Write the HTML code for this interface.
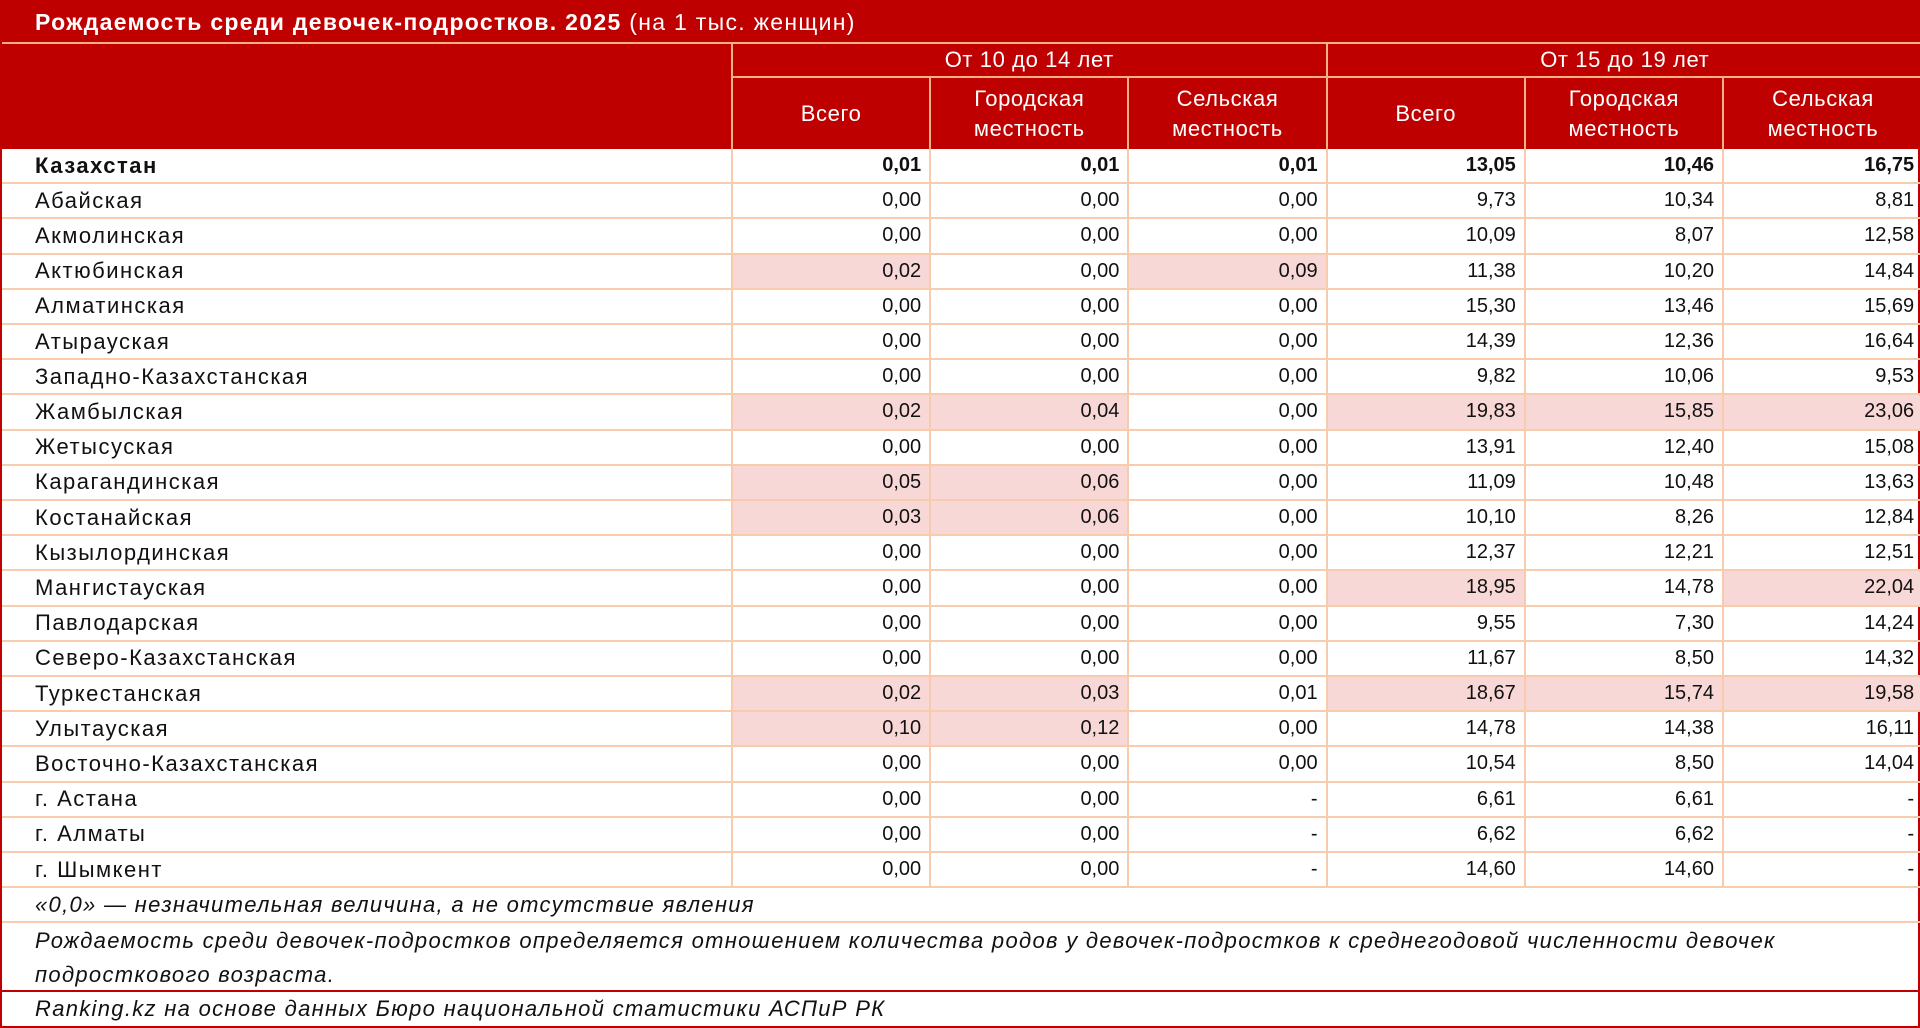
<!DOCTYPE html>
<html><head><meta charset="utf-8"><style>
*{margin:0;padding:0;box-sizing:border-box}
html,body{width:1920px;height:1028px;background:#fff;overflow:hidden}
body{font-family:"Liberation Sans","DejaVu Sans",sans-serif;color:#111}
#t{position:absolute;left:0;top:0;width:1920px;height:1028px;border:2px solid #c00000}
.title{position:absolute;left:0;top:0;width:1920px;height:42px;background:#bf0000;color:#fff;font-size:23px;letter-spacing:1.3px;padding:7px 0 0 33px;border-bottom:2px solid #f4b183}
.title b{font-weight:bold}
.hdr{position:absolute;background:#bf0000;color:#fff;font-size:22px;letter-spacing:0.6px;text-align:center;display:flex;align-items:center;justify-content:center;line-height:30px;border-right:2px solid #f4b183;border-bottom:2px solid #f4b183}
.row{position:absolute;left:0;width:1920px;height:33.6px;border-bottom:2px solid #f8cbad;font-size:20px}
.c{position:absolute;top:0;height:100%;display:flex;align-items:center;border-right:2px solid #f8cbad}
.l{left:0;width:731px;padding-left:33px;font-size:22px;letter-spacing:1.5px}
.n{justify-content:flex-end;padding-right:8px;width:198.2px}
.p{background:#f8d7d7}
.bold{font-weight:bold}
.fn{position:absolute;left:0;width:1920px;font-size:22px;letter-spacing:1.3px;font-style:italic;padding-left:33px;white-space:nowrap}
</style></head><body>
<div id="t">
<div class="title"><b>Рождаемость среди девочек-подростков. 2025</b> (на 1 тыс. женщин)</div>
<div class="hdr" style="left:0;top:42px;width:731px;height:105px;border-bottom:none"></div>
<div class="hdr" style="left:731px;top:42px;width:594.5px;height:34px">От 10 до 14 лет</div>
<div class="hdr" style="left:1325.5px;top:42px;width:594.5px;height:34px;border-right:none">От 15 до 19 лет</div>
<div class="hdr" style="left:731px;top:76px;width:198.2px;height:71px;border-bottom:none">Всего</div>
<div class="hdr" style="left:929.2px;top:76px;width:198.2px;height:71px;border-bottom:none">Городская<br>местность</div>
<div class="hdr" style="left:1127.4px;top:76px;width:198.2px;height:71px;border-bottom:none">Сельская<br>местность</div>
<div class="hdr" style="left:1325.6px;top:76px;width:198.2px;height:71px;border-bottom:none">Всего</div>
<div class="hdr" style="left:1523.8px;top:76px;width:198.2px;height:71px;border-bottom:none">Городская<br>местность</div>
<div class="hdr" style="left:1722px;top:76px;width:198px;height:71px;border-bottom:none;border-right:none">Сельская<br>местность</div>
<div id="rows"></div>
<div class="fn" style="top:886px;height:35px;line-height:33px;border-bottom:2px solid #f8cbad">«0,0» — незначительная величина, а не отсутствие явления</div>
<div class="fn" style="top:921px;height:69px;line-height:34px;padding-top:1px;border-bottom:2px solid #c00000">Рождаемость среди девочек-подростков определяется отношением количества родов у девочек-подростков к среднегодовой численности девочек<br>подросткового возраста.</div>
<div class="fn" style="top:990px;height:36px;line-height:34px">Ranking.kz на основе данных Бюро национальной статистики АСПиР РК</div>
</div>
<script>
var D=[
["Казахстан","0,01","0,01","0,01","13,05","10,46","16,75",""],
["Абайская","0,00","0,00","0,00","9,73","10,34","8,81",""],
["Акмолинская","0,00","0,00","0,00","10,09","8,07","12,58",""],
["Актюбинская","0,02","0,00","0,09","11,38","10,20","14,84","101000"],
["Алматинская","0,00","0,00","0,00","15,30","13,46","15,69",""],
["Атырауская","0,00","0,00","0,00","14,39","12,36","16,64",""],
["Западно-Казахстанская","0,00","0,00","0,00","9,82","10,06","9,53",""],
["Жамбылская","0,02","0,04","0,00","19,83","15,85","23,06","110111"],
["Жетысуская","0,00","0,00","0,00","13,91","12,40","15,08",""],
["Карагандинская","0,05","0,06","0,00","11,09","10,48","13,63","110000"],
["Костанайская","0,03","0,06","0,00","10,10","8,26","12,84","110000"],
["Кызылординская","0,00","0,00","0,00","12,37","12,21","12,51",""],
["Мангистауская","0,00","0,00","0,00","18,95","14,78","22,04","000101"],
["Павлодарская","0,00","0,00","0,00","9,55","7,30","14,24",""],
["Северо-Казахстанская","0,00","0,00","0,00","11,67","8,50","14,32",""],
["Туркестанская","0,02","0,03","0,01","18,67","15,74","19,58","110111"],
["Улытауская","0,10","0,12","0,00","14,78","14,38","16,11","110000"],
["Восточно-Казахстанская","0,00","0,00","0,00","10,54","8,50","14,04",""],
["г. Астана","0,00","0,00","-","6,61","6,61","-",""],
["г. Алматы","0,00","0,00","-","6,62","6,62","-",""],
["г. Шымкент","0,00","0,00","-","14,60","14,60","-",""]];
var h="";
D.forEach(function(r,i){
 var top=147+i*35.2;
 h+='<div class="row'+(i==0?' bold':'')+'" style="top:'+top+'px;height:35.2px"><div class="c l">'+r[0]+'</div>';
 for(var k=1;k<=6;k++){
  var p=r[7]&&r[7][k-1]=="1";
  h+='<div class="c n'+(p?' p':'')+'" style="left:'+(731+(k-1)*198.2)+'px;'+(k==6?'border-right:none;':'')+'">'+r[k]+'</div>';
 }
 h+='</div>';
});
document.getElementById("rows").innerHTML=h;
</script>
</body></html>
